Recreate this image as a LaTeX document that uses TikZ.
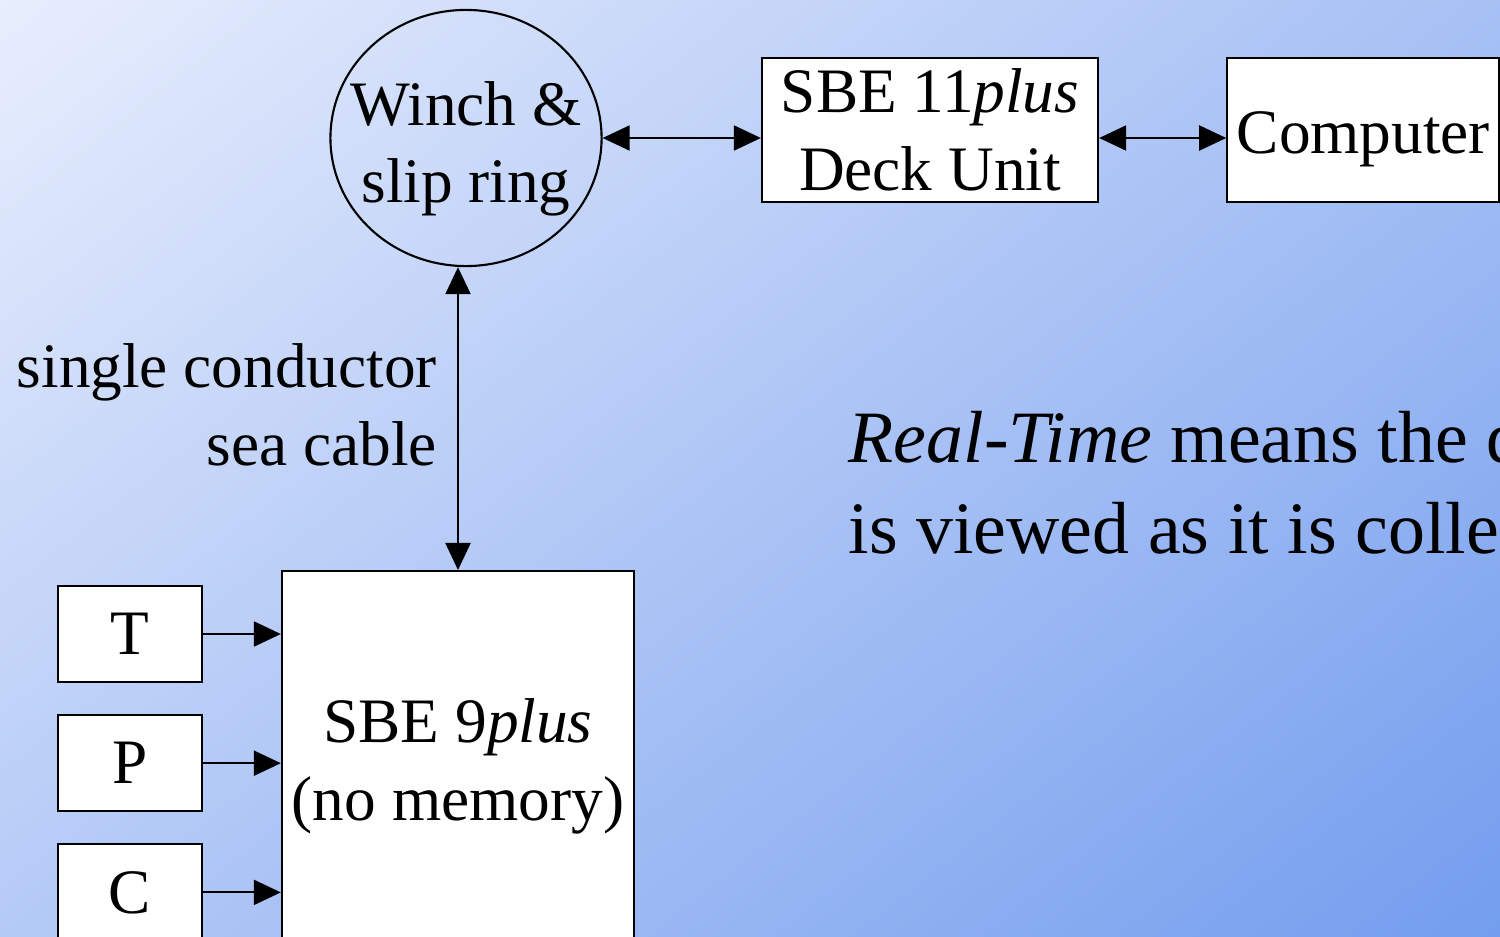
\documentclass[tikz,border=0pt]{standalone}
\usepackage{fontspec}
\setmainfont{Liberation Serif}
\usetikzlibrary{shapes,positioning,arrows.meta}

\definecolor{bglight}{RGB}{232,238,253}
\definecolor{bgdark}{RGB}{115,157,238}
\newcommand{\boxfont}{\fontsize{18}{22.1}\selectfont}
\newcommand{\notefont}{\fontsize{21}{25.8}\selectfont}

\begin{document}
\begin{tikzpicture}[
    x=0.01cm, y=-0.01cm,
    node distance=0.31cm and 0.8cm,
    box/.style={rectangle, draw, fill=white, line width=0.6pt, inner sep=0pt, font=\boxfont, align=center},
    sensor/.style={box, minimum width=1.44cm, minimum height=0.96cm},
    link/.style={line width=0.6pt, {Triangle[length=0.27cm,width=0.25cm]}-{Triangle[length=0.27cm,width=0.25cm]}},
    feed/.style={line width=0.6pt, -{Triangle[length=0.27cm,width=0.25cm]}}
]
    \useasboundingbox (0,0) rectangle (1500,936);
    \clip (0,0) rectangle (1500,936);
    % background, light top left to dark bottom right
    \shade[top color=bglight, bottom color=bgdark, shading angle=38.2] (-81.8,-363.8) rectangle (1581.8,1299.8);

    % top row
    \node[ellipse, draw, line width=0.6pt, minimum width=2.71cm, minimum height=2.56cm, inner sep=0pt] (winch) at (466,138) {};
    \node[align=center, font=\boxfont, inner sep=0pt] (winchtext) at (466,149) {Winch \&\\slip ring};
    \node[box, minimum width=3.36cm, minimum height=1.44cm] (deck) at (930,130) {SBE 11\textit{plus}\\Deck Unit};
    \node[box, minimum width=2.72cm, minimum height=1.44cm, right=1.27cm of deck] (pc) {\raisebox{-0.09cm}[\height][\depth]{Computer}};

    % underwater unit and sensors
    \node[box, minimum width=3.52cm, minimum height=3.9cm, anchor=north] (ctd) at (458,570) {SBE 9\textit{plus}\\(no memory)};
    \node[sensor] (t) at (130,634) {T};
    \node[sensor, below=of t] (p) {P};
    \node[sensor, below=of p] (c) {C};

    \draw[link] (winch.east) -- (winch.east -| deck.west);
    \draw[link] (deck.east |- winch.east) -- (pc.west |- winch.east);
    \draw[link] (ctd.north) -- (ctd.north |- winch.south)
        node[midway, left=0.2cm, yshift=0.14cm, align=right, font=\boxfont, inner sep=0pt] (cable) {single conductor\\sea cable};
    \draw[feed] (t) -- (t -| ctd.west);
    \draw[feed] (p) -- (p -| ctd.west);
    \draw[feed] (c) -- (c -| ctd.west);

    \node[anchor=base west, align=left, font=\notefont, inner sep=0pt] (note) at (848,553)
        {\textit{Real-Time} means the data\\is viewed as it is collected};
\end{tikzpicture}
\end{document}
